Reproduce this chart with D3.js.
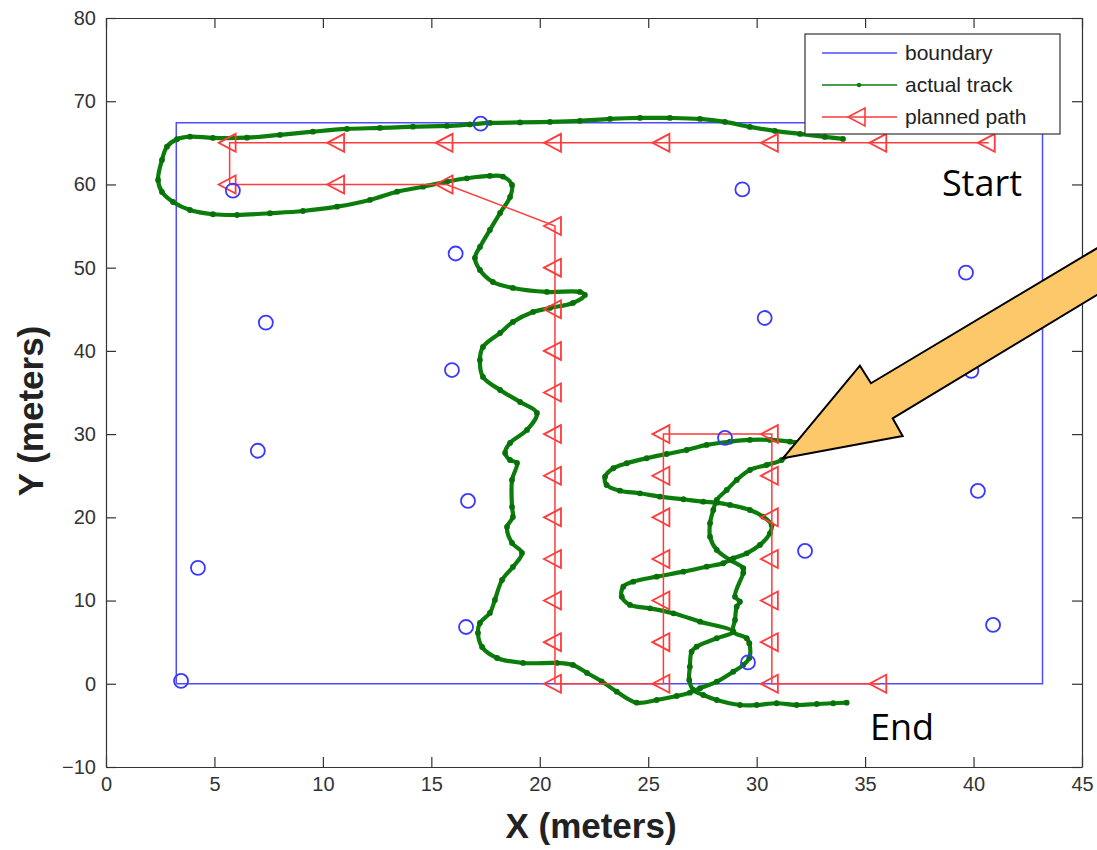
<!DOCTYPE html>
<html>
<head>
<meta charset="utf-8">
<script src="https://cdnjs.cloudflare.com/ajax/libs/d3/7.8.5/d3.min.js"></script>
<style>
body { margin: 0; background: #fff; }
svg { display: block; }
.axis text { font-family: "Liberation Sans", Arial, sans-serif; font-size: 20px; fill: #333; }
.axis path, .axis line { stroke: #333; stroke-width: 1.2; }
</style>
</head>
<body>
<svg width="1097" height="850"></svg>
<script>
// axis ticks
var xTicks = [0, 5, 10, 15, 20, 25, 30, 35, 40, 45];
var yTicks = [-10, 0, 10, 20, 30, 40, 50, 60, 70, 80];

// field boundary (meters)
var boundary = [[3.24, 0], [43.18, 0], [43.18, 67.4], [3.24, 67.4], [3.24, 0]];

// landmark positions
var landmarks = [
  [17.27, 67.3], [5.85, 59.25], [29.34, 59.4], [16.12, 51.7], [7.37, 43.4],
  [30.37, 43.95], [39.65, 49.4], [39.9, 37.6], [15.95, 37.7], [7.0, 28.0],
  [28.54, 29.55], [16.69, 21.97], [40.2, 23.17], [32.23, 15.96], [4.24, 13.92],
  [16.6, 6.82], [40.9, 7.07], [29.6, 2.57], [3.46, 0.34]
];

// planned path waypoints
var planned = [
  [40.7, 65], [35.7, 65], [30.7, 65], [25.7, 65], [20.7, 65], [15.7, 65], [10.7, 65], [5.7, 65],
  [5.7, 60], [10.7, 60], [15.7, 60],
  [20.7, 55], [20.7, 50], [20.7, 45], [20.7, 40], [20.7, 35], [20.7, 30], [20.7, 25],
  [20.7, 20], [20.7, 15], [20.7, 10], [20.7, 5], [20.7, 0],
  [25.7, 0], [25.7, 5], [25.7, 10], [25.7, 15], [25.7, 20], [25.7, 25], [25.7, 30],
  [30.7, 30], [30.7, 25], [30.7, 20], [30.7, 15], [30.7, 10], [30.7, 5], [30.7, 0],
  [35.7, 0]
];

// actual track
var track = [
  [33.98, 65.47], [33.15, 65.71], [32.00, 66.07], [30.84, 66.43], [29.69, 66.91], [28.54, 67.51],
  [27.39, 67.87], [26.00, 67.99], [24.62, 67.99], [23.24, 67.87], [21.85, 67.63], [20.47, 67.51],
  [19.09, 67.45], [17.70, 67.39], [16.78, 67.21], [15.72, 67.03], [14.15, 66.94], [12.63, 66.79],
  [11.11, 66.67], [9.54, 66.34], [8.02, 65.95], [6.50, 65.62], [4.93, 65.59], [3.87, 65.74],
  [3.27, 65.43], [2.81, 64.54], [2.58, 62.94], [2.40, 60.54], [2.58, 59.10], [3.09, 57.89],
  [3.87, 56.93], [4.93, 56.42], [6.04, 56.33], [7.56, 56.54], [9.08, 56.81], [10.65, 57.33],
  [12.17, 58.14], [13.42, 59.13], [14.62, 59.73], [15.72, 60.33], [16.64, 60.74], [17.70, 61.02],
  [18.30, 60.94], [18.72, 59.94], [18.63, 58.50], [18.17, 56.57], [17.70, 54.53], [17.24, 52.49],
  [17.01, 51.17], [17.24, 49.72], [17.84, 48.28], [18.76, 47.56], [20.33, 47.08], [21.85, 47.08],
  [22.08, 46.72], [21.53, 45.76], [20.47, 45.16], [19.69, 44.68], [18.76, 43.48], [18.17, 42.15],
  [17.38, 40.47], [17.24, 38.91], [17.38, 36.87], [18.17, 35.30], [19.09, 33.86], [19.87, 32.54],
  [19.41, 30.50], [18.63, 28.94], [18.40, 27.73], [18.63, 26.89], [18.95, 26.53], [18.72, 24.49],
  [18.72, 21.25], [18.76, 20.04], [18.49, 18.84], [18.72, 16.92], [19.18, 15.72], [18.76, 14.04],
  [18.26, 12.47], [17.93, 10.07], [17.70, 8.51], [17.24, 7.31], [17.15, 6.10], [17.34, 4.42],
  [18.03, 3.10], [19.23, 2.50], [20.79, 2.50], [21.53, 2.26], [22.18, 1.30], [22.85, 0.30],
  [23.55, -0.95], [24.47, -2.27], [25.39, -1.95], [26.31, -1.47], [26.92, -1.07], [27.39, -0.54],
  [28.16, 0.25], [28.92, 1.45], [29.38, 2.26], [29.66, 3.10], [29.66, 4.87], [29.54, 5.47],
  [28.92, 6.26], [29.00, 7.67], [29.08, 9.26], [29.23, 9.87], [29.00, 10.47], [29.38, 13.31],
  [29.38, 13.88], [28.77, 14.88], [28.16, 16.08], [27.85, 17.68], [27.85, 19.29], [28.00, 20.88],
  [28.16, 22.09], [28.62, 23.29], [29.08, 24.49], [29.69, 25.69], [30.46, 26.29], [31.15, 26.89],
  [31.63, 28.09], [31.81, 28.94], [31.54, 29.09], [30.61, 29.30], [29.69, 29.30], [28.77, 29.09],
  [27.69, 28.70], [26.77, 28.09], [25.85, 27.61], [24.93, 27.10], [24.01, 26.50], [23.39, 25.90],
  [23.01, 24.89], [23.08, 23.89], [23.70, 23.20], [24.62, 22.89], [25.54, 22.48], [26.62, 22.17],
  [27.54, 21.88], [28.16, 21.76], [28.77, 21.49], [29.69, 20.88], [30.30, 20.08], [30.69, 19.08],
  [30.61, 18.08], [30.15, 16.68], [29.54, 15.68], [28.92, 15.08], [28.46, 14.48], [27.69, 14.07],
  [26.62, 13.47], [25.39, 12.87], [24.31, 12.27], [23.85, 11.67], [23.78, 10.47], [24.16, 9.47],
  [25.08, 9.07], [26.16, 8.47], [27.39, 7.46], [28.92, 6.26], [28.16, 5.47], [27.23, 4.46],
  [27.00, 3.86], [26.92, 2.05], [26.89, 0.46], [27.08, -0.75], [27.54, -1.35], [28.16, -1.95],
  [29.23, -2.55], [30.00, -2.55], [30.92, -2.34], [31.84, -2.55], [32.77, -2.43], [33.53, -2.34],
  [34.15, -2.27]
];

// callout arrow outline (meters, runs off the right edge)
var arrow = [
  [31.21, 27.09], [34.76, 38.22], [35.27, 36.11], [47.21, 54.70],
  [47.21, 49.11], [36.27, 31.90], [36.73, 29.78]
];

var legendItems = ["boundary", "actual track", "planned path"];

var svg = d3.select("svg");

var x = d3.scaleLinear().domain([0, 45]).range([106, 1082]);
var y = d3.scaleLinear().domain([-10, 80]).range([767, 18]);

var line = d3.line()
    .x(function(d) { return x(d[0]); })
    .y(function(d) { return y(d[1]); });

svg.append("rect")
    .attr("x", 106).attr("y", 18)
    .attr("width", 976).attr("height", 749)
    .attr("fill", "#fff");

// boundary
svg.append("path")
    .attr("d", line(boundary))
    .attr("fill", "none")
    .attr("stroke", "#4d4dff")
    .attr("stroke-width", 1.5);

// track
svg.append("path")
    .attr("d", line.curve(d3.curveCatmullRom)(track))
    .attr("fill", "none")
    .attr("stroke", "#0b7d0b")
    .attr("stroke-width", 4.2)
    .attr("stroke-linejoin", "round");
line.curve(d3.curveLinear);

svg.append("g")
  .selectAll("circle")
  .data(track)
  .enter().append("circle")
    .attr("cx", function(d) { return x(d[0]); })
    .attr("cy", function(d) { return y(d[1]); })
    .attr("r", 2.9)
    .attr("fill", "#087008");

// planned path
svg.append("path")
    .attr("d", line(planned))
    .attr("fill", "none")
    .attr("stroke", "#ff3b3b")
    .attr("stroke-width", 1.5);

var tri = "M-11,0L6,-9L6,9Z";

svg.append("g")
  .selectAll("path")
  .data(planned)
  .enter().append("path")
    .attr("d", tri)
    .attr("transform", function(d) { return "translate(" + x(d[0]) + "," + y(d[1]) + ")"; })
    .attr("fill", "none")
    .attr("stroke", "#ff3b3b")
    .attr("stroke-width", 1.8);

// landmarks
svg.append("g")
  .selectAll("circle")
  .data(landmarks)
  .enter().append("circle")
    .attr("cx", function(d) { return x(d[0]); })
    .attr("cy", function(d) { return y(d[1]); })
    .attr("r", 7)
    .attr("fill", "none")
    .attr("stroke", "#3a3aff")
    .attr("stroke-width", 1.8);

// axes box
svg.append("g")
    .attr("class", "axis")
    .attr("transform", "translate(0,767)")
    .call(d3.axisBottom(x).tickValues(xTicks).tickSizeInner(-10).tickSizeOuter(0).tickPadding(10).tickFormat(d3.format("d")));

svg.append("g")
    .attr("class", "axis")
    .attr("transform", "translate(106,0)")
    .call(d3.axisLeft(y).tickValues(yTicks).tickSizeInner(-10).tickSizeOuter(0).tickPadding(10).tickFormat(d3.format("d")));

svg.append("g")
    .attr("class", "axis")
    .attr("transform", "translate(0,18)")
    .call(d3.axisTop(x).tickValues(xTicks).tickSizeInner(-10).tickSizeOuter(0).tickFormat(""));

svg.append("g")
    .attr("class", "axis")
    .attr("transform", "translate(1082,0)")
    .call(d3.axisRight(y).tickValues(yTicks).tickSizeInner(-10).tickSizeOuter(0).tickFormat(""));

svg.append("text")
    .attr("x", 591).attr("y", 838)
    .attr("text-anchor", "middle")
    .attr("font-family", "Liberation Sans, Arial, sans-serif")
    .attr("font-weight", "bold")
    .attr("font-size", 35)
    .attr("fill", "#222")
    .text("X (meters)");

svg.append("text")
    .attr("transform", "translate(43,411) rotate(-90)")
    .attr("text-anchor", "middle")
    .attr("font-family", "Liberation Sans, Arial, sans-serif")
    .attr("font-weight", "bold")
    .attr("font-size", 35)
    .attr("fill", "#222")
    .text("Y (meters)");

// legend
var legend = svg.append("g");
legend.append("rect")
    .attr("x", 805).attr("y", 34)
    .attr("width", 255).attr("height", 100)
    .attr("fill", "#fff")
    .attr("stroke", "#333")
    .attr("stroke-width", 1.2);

var legendColors = ["#4d4dff", "#0b7d0b", "#ff3b3b"];
var rows = legend.selectAll("g.row")
    .data(legendItems)
    .enter().append("g")
    .attr("class", "row")
    .attr("transform", function(d, i) { return "translate(0," + (53 + i * 32) + ")"; });

rows.append("line")
    .attr("x1", 822).attr("x2", 897)
    .attr("stroke", function(d, i) { return legendColors[i]; })
    .attr("stroke-width", 1.3);

rows.append("text")
    .attr("x", 905).attr("y", 7)
    .attr("font-family", "Liberation Sans, Arial, sans-serif")
    .attr("font-size", 21)
    .attr("fill", "#222")
    .text(function(d) { return d; });

rows.filter(function(d, i) { return i === 1; })
  .append("circle")
    .attr("cx", 859).attr("r", 2.2)
    .attr("fill", "#0b7d0b");

rows.filter(function(d, i) { return i === 2; })
  .append("path")
    .attr("d", tri)
    .attr("transform", "translate(859,0)")
    .attr("fill", "none")
    .attr("stroke", "#ff3b3b")
    .attr("stroke-width", 1.6);

// annotations
svg.append("text")
    .attr("x", x(38.54)).attr("y", y(58.62))
    .attr("font-family", "Open Sans, sans-serif")
    .attr("font-size", 36)
    .attr("font-weight", 500)
    .attr("fill", "#000")
    .text("Start");

svg.append("text")
    .attr("x", x(35.22)).attr("y", y(-6.75))
    .attr("font-family", "Open Sans, sans-serif")
    .attr("font-size", 36)
    .attr("font-weight", 500)
    .attr("fill", "#000")
    .text("End");

svg.append("path")
    .attr("d", line(arrow) + "Z")
    .attr("fill", "#fcc869")
    .attr("stroke", "#000")
    .attr("stroke-width", 2)
    .attr("stroke-linejoin", "miter");
</script>
</body>
</html>
